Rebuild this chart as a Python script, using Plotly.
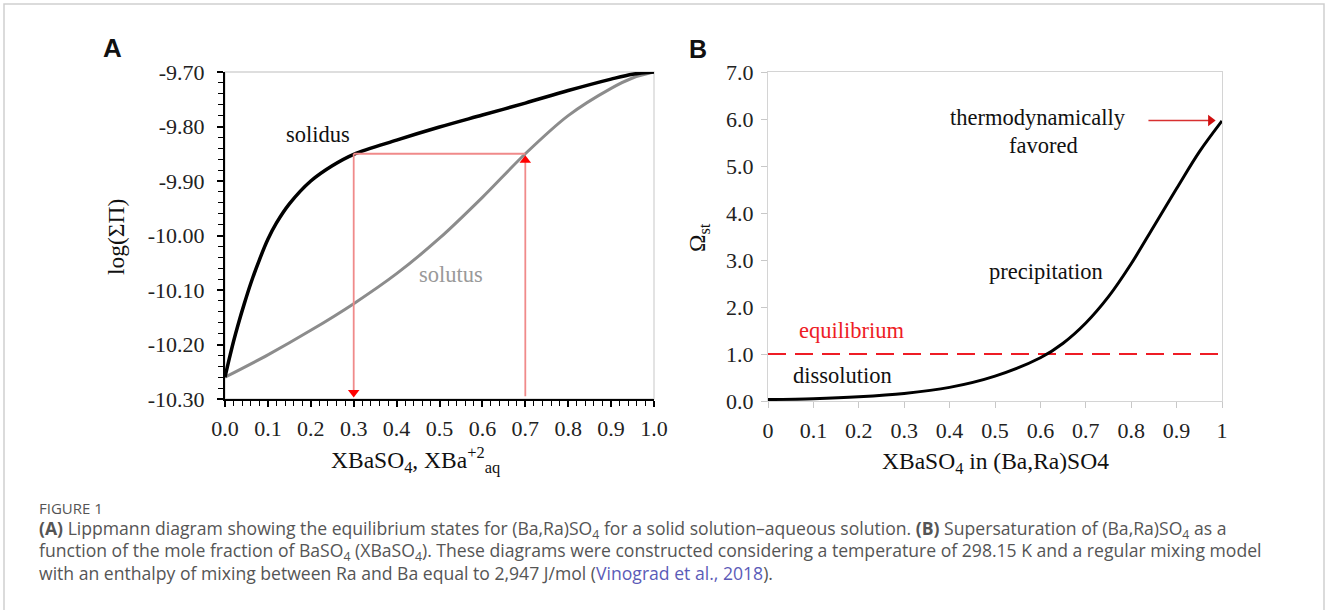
import plotly.graph_objects as go

W, H = 1328, 610

# ---------------- data: panel A (Lippmann diagram) ----------------
solidus_x = [0.0, 0.01, 0.02, 0.03, 0.045, 0.06, 0.08, 0.10, 0.12, 0.15, 0.20, 0.25, 0.30,
             0.40, 0.50, 0.60, 0.70, 0.80, 0.90, 0.95, 1.0]
solidus_y = [-10.260, -10.226, -10.194, -10.165, -10.125, -10.088, -10.045, -10.007, -9.977,
             -9.942, -9.900, -9.872, -9.851, -9.825, -9.801, -9.779, -9.757, -9.734, -9.713,
             -9.704, -9.700]
solutus_x = [0.0, 0.1, 0.2, 0.3, 0.4, 0.5, 0.6, 0.7, 0.8, 0.9, 0.95, 1.0]
solutus_y = [-10.260, -10.219, -10.174, -10.125, -10.070, -10.005, -9.930, -9.850,
             -9.780, -9.730, -9.711, -9.700]
# red construction lines
tie_x = [0.3, 0.7]
tie_y = [-9.85, -9.85]
drop_x = [0.3, 0.3]
drop_y = [-9.85, -10.288]
rise_x = [0.7, 0.7]
rise_y = [-10.295, -9.862]

# ---------------- data: panel B (supersaturation) ----------------
omega_x = [0.0, 0.1, 0.2, 0.3, 0.4, 0.5, 0.6, 0.65, 0.7, 0.75, 0.8, 0.85, 0.9, 0.95, 1.0]
omega_y = [0.03, 0.05, 0.09, 0.16, 0.29, 0.53, 0.92, 1.23, 1.66, 2.22, 2.92, 3.72, 4.52, 5.30, 5.96]
equil_x = [0.0, 1.0]
equil_y = [1.0, 1.0]
fav_x = [0.838, 0.975]
fav_y = [5.97, 5.97]

xticks_A = [0.0, 0.1, 0.2, 0.3, 0.4, 0.5, 0.6, 0.7, 0.8, 0.9, 1.0]
xlabels_A = ["0.0", "0.1", "0.2", "0.3", "0.4", "0.5", "0.6", "0.7", "0.8", "0.9", "1.0"]
yticks_A = [-10.30, -10.20, -10.10, -10.00, -9.90, -9.80, -9.70]
ylabels_A = ["-10.30", "-10.20", "-10.10", "-10.00", "-9.90", "-9.80", "-9.70"]
xticks_B = [0, 0.1, 0.2, 0.3, 0.4, 0.5, 0.6, 0.7, 0.8, 0.9, 1]
xlabels_B = ["0", "0.1", "0.2", "0.3", "0.4", "0.5", "0.6", "0.7", "0.8", "0.9", "1"]
yticks_B = [0, 1, 2, 3, 4, 5, 6, 7]
ylabels_B = ["0.0", "1.0", "2.0", "3.0", "4.0", "5.0", "6.0", "7.0"]

SERIF = "Liberation Serif"
RED = "#ee1c25"
PINK = "#f08a8a"


def px(v):
    return v / W


def py(v):
    return 1 - v / H


fig = go.Figure()

# Panel A traces
fig.add_trace(go.Scatter(x=solutus_x, y=solutus_y, mode="lines",
                         line=dict(color="#8c8c8c", width=3, shape="spline", smoothing=0.9),
                         xaxis="x", yaxis="y", showlegend=False))
fig.add_trace(go.Scatter(x=solidus_x, y=solidus_y, mode="lines",
                         line=dict(color="#000000", width=3.5, shape="spline", smoothing=0.9),
                         xaxis="x", yaxis="y", showlegend=False))
for xs, ys in [(tie_x, tie_y), (drop_x, drop_y), (rise_x, rise_y)]:
    fig.add_trace(go.Scatter(x=xs, y=ys, mode="lines", line=dict(color=PINK, width=1.8),
                             xaxis="x", yaxis="y", showlegend=False))
fig.add_trace(go.Scatter(x=[drop_x[1]], y=[drop_y[1]], mode="markers",
                         marker=dict(symbol="triangle-down", size=10, color="#ff0000"),
                         xaxis="x", yaxis="y", showlegend=False))
fig.add_trace(go.Scatter(x=[rise_x[1]], y=[rise_y[1]], mode="markers",
                         marker=dict(symbol="triangle-up", size=10, color="#ff0000"),
                         xaxis="x", yaxis="y", showlegend=False))

# Panel B traces
fig.add_trace(go.Scatter(x=equil_x, y=equil_y, mode="lines", line=dict(color=RED, width=2.2, dash="18px,9px"),
                         xaxis="x2", yaxis="y2", showlegend=False))
fig.add_trace(go.Scatter(x=omega_x, y=omega_y, mode="lines",
                         line=dict(color="#000000", width=3, shape="spline", smoothing=0.9),
                         xaxis="x2", yaxis="y2", showlegend=False))
fig.add_trace(go.Scatter(x=fav_x, y=fav_y, mode="lines", line=dict(color="#d83030", width=1.5),
                         xaxis="x2", yaxis="y2", showlegend=False))
fig.add_trace(go.Scatter(x=[fav_x[1]], y=[fav_y[1]], mode="markers",
                         marker=dict(symbol="triangle-right", size=10, color="#d01010"),
                         xaxis="x2", yaxis="y2", showlegend=False))

tickfont = dict(family=SERIF, size=22, color="#222222")

fig.update_layout(
    template="none",
    width=W, height=H,
    margin=dict(l=0, r=0, t=0, b=0),
    paper_bgcolor="white", plot_bgcolor="white",
    xaxis=dict(domain=[px(225), px(654)], range=[0, 1], tickmode="array", tickvals=xticks_A, ticktext=xlabels_A,
               showline=True, linecolor="black", linewidth=2, ticks="outside", ticklen=6,
               tickcolor="black", tickwidth=1.5, showgrid=False, zeroline=False, tickfont=tickfont,
               ticklabelstandoff=3,
               minor=dict(dtick=0.02, ticks="outside", ticklen=5, tickcolor="black", tickwidth=1.2, showgrid=False),
               anchor="y", fixedrange=True, automargin=False),
    yaxis=dict(domain=[py(399), py(72)], range=[-10.30, -9.70], tickmode="array", tickvals=yticks_A,
               ticktext=ylabels_A,
               showline=True, linecolor="black", linewidth=2, ticks="outside", ticklen=6,
               tickcolor="black", tickwidth=1.5, showgrid=False, zeroline=False, tickfont=tickfont,
               ticklabelstandoff=8,
               minor=dict(dtick=0.02, ticks="outside", ticklen=5, tickcolor="black", tickwidth=1.2, showgrid=False),
               anchor="x", fixedrange=True, automargin=False),
    xaxis2=dict(domain=[px(768), px(1222)], range=[0, 1], tickmode="array", tickvals=xticks_B, ticktext=xlabels_B,
                showline=True, mirror=True, linecolor="#d4d4d4", linewidth=1.3, ticks="outside", ticklen=6,
                tickcolor="#c8c8c8", showgrid=False, zeroline=False, tickfont=tickfont,
                ticklabelstandoff=3,
                anchor="y2", fixedrange=True, automargin=False),
    yaxis2=dict(domain=[py(401), py(72)], range=[0, 7], tickmode="array", tickvals=yticks_B, ticktext=ylabels_B,
                showline=True, mirror=True, linecolor="#d4d4d4", linewidth=1.3, ticks="outside", ticklen=6,
                tickcolor="#c8c8c8", showgrid=False, zeroline=False, tickfont=tickfont,
                ticklabelstandoff=3,
                anchor="x2", fixedrange=True, automargin=False),
)

shapes = [
    # outer figure border
    dict(type="rect", xref="paper", yref="paper", x0=px(4), x1=px(1324), y0=-0.05, y1=py(4),
         line=dict(color="#cfcfcf", width=1.5), fillcolor="rgba(0,0,0,0)", layer="below"),
    # light frame (top/right) of panel A
    dict(type="rect", xref="x domain", yref="y domain", x0=0, x1=1, y0=0, y1=1,
         line=dict(color="#d4d4d4", width=1.3), layer="below"),
]
fig.update_layout(shapes=shapes)

title_font = dict(family=SERIF, size=23.5, color="#111111")
label_font = dict(family=SERIF, size=22.5, color="#111111")
ann = [
    # panel letters
    dict(text="<b>A</b>", x=px(112.5), y=py(47.5), xref="paper", yref="paper", showarrow=False,
         font=dict(family="Liberation Sans", size=26, color="#111"), xanchor="center", yanchor="middle"),
    dict(text="<b>B</b>", x=px(698), y=py(48.5), xref="paper", yref="paper", showarrow=False,
         font=dict(family="Liberation Sans", size=25, color="#111"), xanchor="center", yanchor="middle"),
    # axis titles
    dict(text="XBaSO<sub>4</sub>, XBa<sup>+2</sup><sub>aq</sub>", x=px(415), y=py(460), xref="paper", yref="paper",
         showarrow=False, font=title_font, xanchor="center", yanchor="middle"),
    dict(text="log(ΣΠ)", x=px(116), y=py(237), xref="paper", yref="paper", textangle=-90,
         showarrow=False, font=title_font, xanchor="center", yanchor="middle"),
    dict(text="XBaSO<sub>4</sub> in (Ba,Ra)SO4", x=px(995), y=py(463), xref="paper", yref="paper",
         showarrow=False, font=title_font, xanchor="center", yanchor="middle"),
    dict(text="Ω<sub>st</sub>", x=px(699), y=py(238), xref="paper", yref="paper", textangle=-90,
         showarrow=False, font=title_font, xanchor="center", yanchor="middle"),
    # panel A labels
    dict(text="solidus", x=0.216, y=-9.814, xref="x", yref="y", showarrow=False, font=label_font),
    dict(text="solutus", x=0.527, y=-10.071, xref="x", yref="y", showarrow=False,
         font=dict(family=SERIF, size=22.5, color="#999999")),
    # panel B labels
    dict(text="equilibrium", x=0.183, y=1.51, xref="x2", yref="y2", showarrow=False,
         font=dict(family=SERIF, size=22.5, color=RED)),
    dict(text="dissolution", x=0.165, y=0.54, xref="x2", yref="y2", showarrow=False, font=label_font),
    dict(text="precipitation", x=0.613, y=2.75, xref="x2", yref="y2", showarrow=False, font=label_font),
    dict(text="thermodynamically", x=0.594, y=6.04, xref="x2", yref="y2", showarrow=False, font=label_font),
    dict(text="favored", x=0.606, y=5.43, xref="x2", yref="y2", showarrow=False, font=label_font),
]

cap_font = dict(family="Open Sans", size=17.6, color="#555555")
link = "<span style='color:#5b5bb8'>Vinograd et al., 2018</span>"
captions = [
    ("FIGURE 1", 508, dict(family="Open Sans", size=15, color="#555555")),
    ("<b>(A)</b> Lippmann diagram showing the equilibrium states for (Ba,Ra)SO<sub>4</sub> for a solid solution–aqueous solution. "
     "<b>(B)</b> Supersaturation of (Ba,Ra)SO<sub>4</sub> as a", 529, cap_font),
    ("function of the mole fraction of BaSO<sub>4</sub> (XBaSO<sub>4</sub>). These diagrams were constructed considering "
     "a temperature of 298.15 K and a regular mixing model", 551, cap_font),
    ("with an enthalpy of mixing between Ra and Ba equal to 2,947 J/mol (" + link + ").", 573, cap_font),
]
for txt, yy, f in captions:
    ann.append(dict(text=txt, x=px(37), y=py(yy), xref="paper", yref="paper", showarrow=False,
                    font=f, xanchor="left", yanchor="middle", align="left"))

fig.update_layout(annotations=ann)

fig.write_html("out.html", config={"displayModeBar": False},
               post_script="document.body.style.margin='0px';document.body.style.overflow='hidden';")
